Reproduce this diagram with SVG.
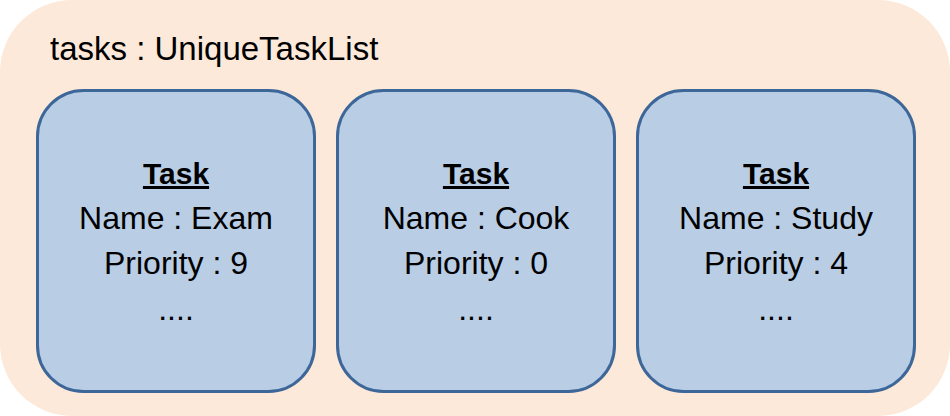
<svg xmlns="http://www.w3.org/2000/svg" width="950" height="416" viewBox="0 0 950 416">
<style>
.box{fill:#b9cde5;stroke:#3d6699;stroke-width:3}
text{font-family:"Liberation Sans",Arial,sans-serif;fill:#000}
.t{font-size:32px;text-anchor:middle}
.h{font-weight:bold;text-decoration:underline;font-size:30px}
</style>
<g id="container">
<rect x="0" y="0" width="950" height="416" rx="72" ry="72" fill="#fde9d9"/>
<text x="50" y="60" font-size="33">tasks : UniqueTaskList</text>
</g>
<g id="connectors"></g>
<g id="task1">
<rect class="box" x="37.5" y="90.5" width="277" height="301" rx="46" ry="46"/>
<text class="t h" x="176" y="184">Task</text>
<text class="t" x="176" y="229">Name : Exam</text>
<text class="t" x="176" y="274">Priority : 9</text>
<text class="t" x="176" y="320">....</text>
</g>
<g id="task2">
<rect class="box" x="337.5" y="90.5" width="277" height="301" rx="46" ry="46"/>
<text class="t h" x="476" y="184">Task</text>
<text class="t" x="476" y="229">Name : Cook</text>
<text class="t" x="476" y="274">Priority : 0</text>
<text class="t" x="476" y="320">....</text>
</g>
<g id="task3">
<rect class="box" x="637.5" y="90.5" width="277" height="301" rx="46" ry="46"/>
<text class="t h" x="776" y="184">Task</text>
<text class="t" x="776" y="229">Name : Study</text>
<text class="t" x="776" y="274">Priority : 4</text>
<text class="t" x="776" y="320">....</text>
</g>
</svg>
